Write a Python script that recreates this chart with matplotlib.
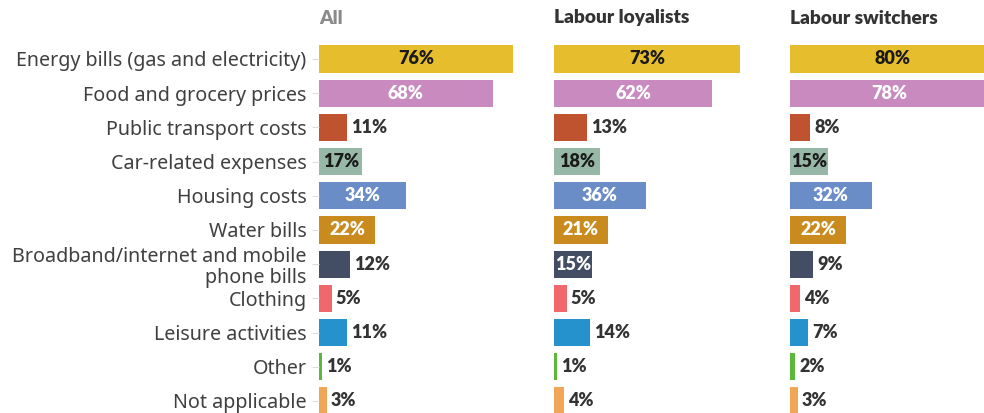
import matplotlib
matplotlib.use("Agg")
import matplotlib.pyplot as plt

categories = [
    "Energy bills (gas and electricity)",
    "Food and grocery prices",
    "Public transport costs",
    "Car-related expenses",
    "Housing costs",
    "Water bills",
    "Broadband/internet and mobile\nphone bills",
    "Clothing",
    "Leisure activities",
    "Other",
    "Not applicable",
]
panel_titles = ["All", "Labour loyalists", "Labour switchers"]
all_values = [76, 68, 11, 17, 34, 22, 12, 5, 11, 1, 3]
loyalist_values = [73, 62, 13, 18, 36, 21, 15, 5, 14, 1, 4]
switcher_values = [80, 78, 8, 15, 32, 22, 9, 4, 7, 2, 3]

colors = ["#E6BD2C", "#C98ABF", "#C0532F", "#97B8A7", "#6A8DC8", "#C98A1E",
          "#434D63", "#F0676C", "#2592CE", "#5DB83A", "#F0A656"]
inside_text = ["#1a1a1a", "white", "white", "#1a1a1a", "white", "white",
               "white", "white", "white", "white", "white"]

W, H = 984, 413
fig = plt.figure(figsize=(W / 100, H / 100), dpi=100)
plt.rcParams["font.family"] = ["Lato", "DejaVu Sans"]

row_px = 34.2
top_px = 59 - row_px / 2
height_px = row_px * len(categories)
panel_left = [319, 554, 790]
panel_w = 194
xmax = 76
title_colors = ["#8a8a8a", "#333333", "#333333"]

for p, (vals, title) in enumerate(zip([all_values, loyalist_values, switcher_values], panel_titles)):
    ax = fig.add_axes([panel_left[p] / W, 1 - (top_px + height_px) / H,
                       panel_w / W, height_px / H])
    ypos = list(range(len(categories)))
    ax.barh(ypos, vals, height=0.8, color=colors)
    ax.set_xlim(0, xmax)
    ax.set_ylim(len(categories) - 0.5, -0.5)
    for s in ax.spines.values():
        s.set_visible(False)
    ax.set_xticks([])
    if p == 0:
        ax.set_yticks(ypos)
        ax.set_yticklabels(categories, fontsize=14.2, color="#404040",
                           family=["Noto Sans", "DejaVu Sans"],
                           linespacing=1.1)
        ax.tick_params(axis="y", length=5, color="#dddddd", pad=4)
    else:
        ax.set_yticks([])
    for i, v in enumerate(vals):
        if v >= 15:
            ax.text(v / 2, i, f"{v}%", ha="center", va="center",
                    fontsize=13, fontweight="heavy", color=inside_text[i])
        else:
            ax.text(v + 1.6, i, f"{v}%", ha="left", va="center",
                    fontsize=13, fontweight="heavy", color="#333333")
    fig.text(panel_left[p] / W, 1 - 18 / H, title, ha="left", va="center",
             fontsize=13.8, fontweight="heavy", color=title_colors[p])

fig.savefig("out.png", dpi=100)
